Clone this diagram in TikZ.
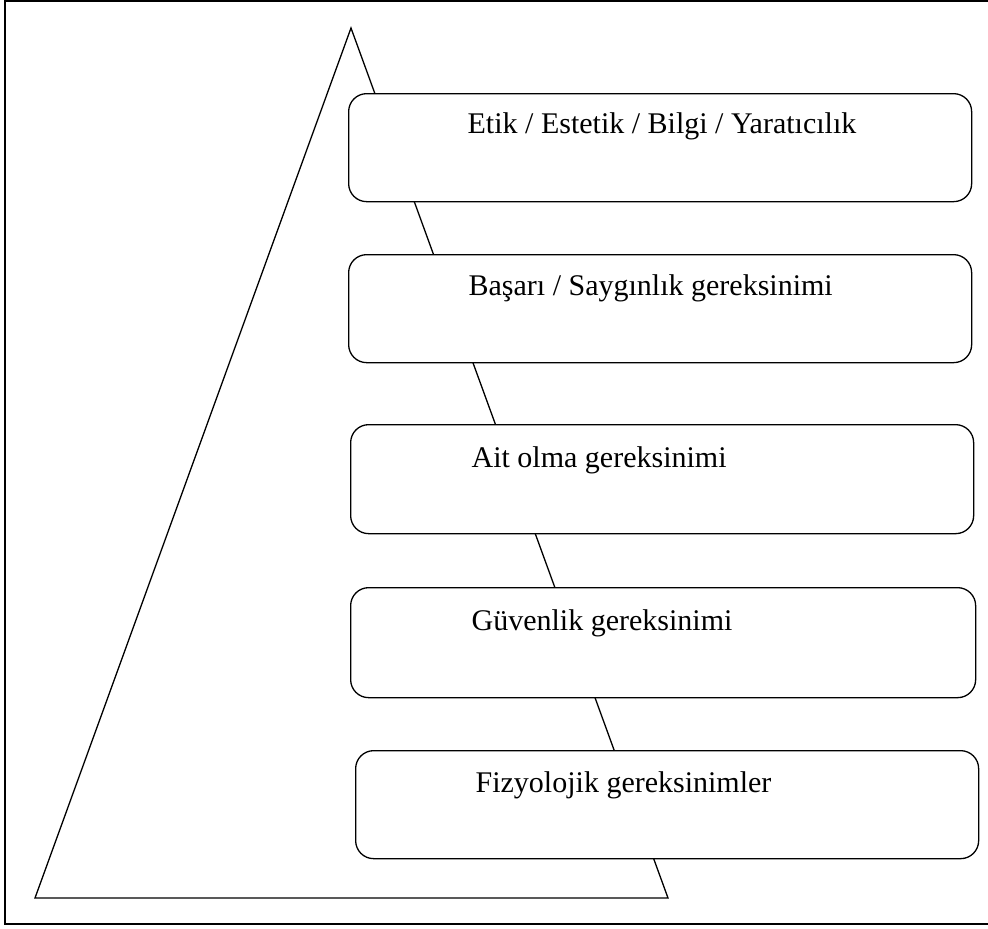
\documentclass[tikz,border=0pt]{standalone}
\usepackage{fontspec}
\setmainfont{Liberation Serif}

\begin{document}
\begin{tikzpicture}[x=1pt,y=-1pt,line width=1.3pt,
    need box/.style={draw,rounded corners=18pt,fill=white,anchor=north west,inner sep=0pt,minimum width=623pt,minimum height=108pt},
    need text/.style={anchor=base west,inner sep=0pt,font=\fontsize{30}{36}\selectfont}]

            \useasboundingbox (0,0) rectangle (988,929);

            % frame (open on the right)
            \coordinate (ftr) at (988,1);
            \coordinate (ftl) at (5,1);
            \coordinate (fbl) at (5,924);
            \coordinate (fbr) at (988,924);
            \draw[line width=1.6pt] (ftr) -- (ftl) -- (fbl) -- (fbr);

            % pyramid
            \coordinate (apex) at (351,28);
            \coordinate (bl) at (35,898);
            \coordinate (br) at (668,898);
            \draw (apex) -- (bl) -- (br) -- cycle;

            \node[need box] (etik) at (348,93) {};
            \node[need box] (basari) at (348,254) {};
            \node[need box, minimum height=109pt] (ait) at (350,424) {};
            \node[need box, minimum width=625pt, minimum height=110pt] (guven) at (350,587) {};
            \node[need box] (fizyo) at (355,750) {};

            \node[need text] (etikt) at (467,133) {Etik / Estetik / Bilgi / Yaratıcılık};
            \node[need text] (basarit) at (468,295) {Başarı / Saygınlık gereksinimi};
            \node[need text] (aitt) at (471,467) {Ait olma gereksinimi};
            \node[need text] (guvent) at (471,630) {Güvenlik gereksinimi};
            \node[need text] (fizyot) at (475,792) {Fizyolojik gereksinimler};

            % \draw[-] (etik) to (basari);
            ;
        \end{tikzpicture}
\end{document}
